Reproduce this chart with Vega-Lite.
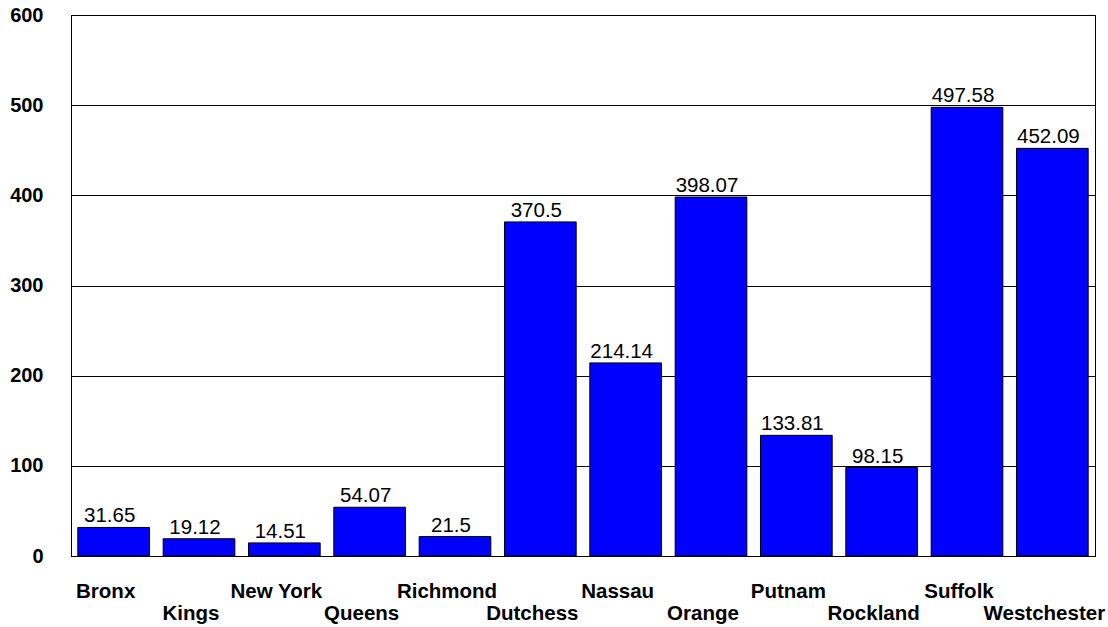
{
  "$schema": "https://vega.github.io/schema/vega-lite/v6.json",
  "width": 1024,
  "height": 541,
  "autosize": {"type": "none"},
  "padding": {"left": 71, "top": 15, "right": 13, "bottom": 71},
  "background": "white",
  "data": {
    "values": [
      {"county": "Bronx", "value": 31.65},
      {"county": "Kings", "value": 19.12},
      {"county": "New York", "value": 14.51},
      {"county": "Queens", "value": 54.07},
      {"county": "Richmond", "value": 21.5},
      {"county": "Dutchess", "value": 370.5},
      {"county": "Nassau", "value": 214.14},
      {"county": "Orange", "value": 398.07},
      {"county": "Putnam", "value": 133.81},
      {"county": "Rockland", "value": 98.15},
      {"county": "Suffolk", "value": 497.58},
      {"county": "Westchester", "value": 452.09}
    ]
  },
  "config": {
    "view": {"stroke": "#000000", "strokeWidth": 1},
    "font": "Liberation Sans"
  },
  "encoding": {
    "x": {
      "field": "county",
      "type": "nominal",
      "sort": null,
      "scale": {"paddingInner": 0.16, "paddingOuter": 0.08},
      "axis": {
        "title": null,
        "labelAngle": 0,
        "labelFont": "Liberation Sans",
        "labelFontSize": 20.5,
        "labelFontWeight": "bold",
        "labelColor": "#000000",
        "labelBaseline": "top",
        "labelPadding": 25,
        "labelLineHeight": 22.5,
        "labelOffset": -8,
        "labelOverlap": false,
        "labelBound": false,
        "ticks": false,
        "domainColor": "#000000",
        "labelExpr": "indexof(['Kings','Queens','Dutchess','Orange','Rockland','Westchester'], datum.value) >= 0 ? ['', datum.value] : datum.value"
      }
    },
    "y": {
      "field": "value",
      "type": "quantitative",
      "scale": {"domain": [0, 600], "nice": false},
      "axis": {
        "title": null,
        "values": [0, 100, 200, 300, 400, 500, 600],
        "labelFont": "Liberation Sans",
        "labelFontSize": 20,
        "labelFontWeight": "bold",
        "labelColor": "#000000",
        "labelPadding": 28,
        "ticks": false,
        "grid": true,
        "gridColor": "#000000",
        "gridOpacity": 1,
        "gridWidth": 1,
        "domainColor": "#000000"
      }
    }
  },
  "layer": [
    {
      "mark": {"type": "bar", "color": "#0000FF", "stroke": "#000000", "strokeWidth": 1}
    },
    {
      "mark": {
        "type": "text",
        "baseline": "alphabetic",
        "dy": -5,
        "dx": -4,
        "font": "Liberation Sans",
        "fontSize": 20.5,
        "color": "#000000"
      },
      "encoding": {"text": {"field": "value", "type": "quantitative"}}
    }
  ]
}
